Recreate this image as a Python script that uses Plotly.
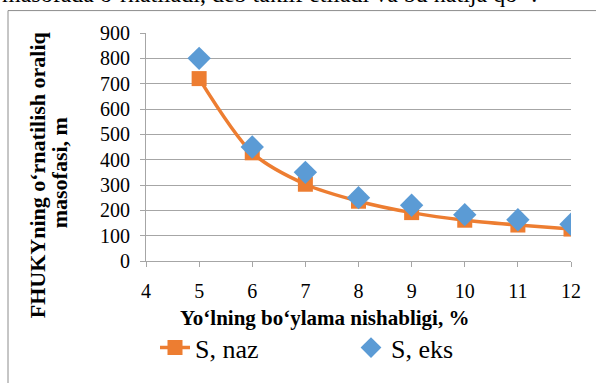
import plotly.graph_objects as go

# Road longitudinal slope, %
slope = [5, 6, 7, 8, 9, 10, 11, 12]
# Spacing, m: calculated (naz) and experimental (eks)
s_naz = [720, 427, 303, 236, 191, 161, 142, 126]
s_eks = [800, 450, 350, 250, 220, 183, 163, 145]

x_ticks = [4, 5, 6, 7, 8, 9, 10, 11, 12]
y_ticks = [0, 100, 200, 300, 400, 500, 600, 700, 800, 900]

ORANGE = "#ED7D31"
BLUE = "#5B9BD5"
GRID = "#A6A6A6"
SERIF = "Liberation Serif, Times New Roman, serif"

W, H = 596, 383
L, R, T, B = 146, 25, 33, 116
PW, PH = W - L - R, H - T - B


def px_x(px):
    return (px - L) / PW


def px_y(py):
    return (H - B - py) / PH


fig = go.Figure()
fig.add_trace(go.Scatter(
    x=slope, y=s_naz, name="S, naz", mode="lines+markers",
    line=dict(color=ORANGE, width=3.5, shape="spline", smoothing=0.8),
    marker=dict(symbol="square", size=15, color=ORANGE),
))
fig.add_trace(go.Scatter(
    x=slope, y=s_eks, name="S, eks", mode="markers",
    marker=dict(symbol="diamond", size=18, color=BLUE),
))

axis_common = dict(
    showline=True, linecolor=GRID, linewidth=1,
    ticks="outside", ticklen=5, tickcolor=GRID,
    tickfont=dict(family=SERIF, size=20, color="black"),
    zeroline=False,
)
fig.update_xaxes(range=[4, 12], tickvals=x_ticks, showgrid=False,
                 ticklabelstandoff=7, **axis_common)
fig.update_yaxes(range=[0, 900], tickvals=y_ticks, showgrid=True,
                 gridcolor=GRID, gridwidth=1, ticklabelstandoff=6,
                 **axis_common)

title_font = dict(family=SERIF, size=22, color="black")
annotations = [
    dict(text="<b>Yo‘lning bo‘ylama nishabligi, %</b>",
         x=px_x(324), y=px_y(326), xref="paper", yref="paper",
         xanchor="center", yanchor="middle",
         showarrow=False, font=dict(family=SERIF, size=21, color="black")),
    # y-axis title, two tightly spaced lines
    dict(text="<b>FHUKYning o‘rnatilish oraliq</b>",
         x=px_x(37), y=px_y(179), xref="paper", yref="paper", textangle=-90,
         xanchor="center", yanchor="middle",
         showarrow=False, font=title_font),
    dict(text="<b>masofasi, m</b>",
         x=px_x(59), y=px_y(177), xref="paper", yref="paper", textangle=-90,
         xanchor="center", yanchor="middle",
         showarrow=False, font=title_font),
    dict(text="masofada o‘rnatiladi, deb taklif etiladi va bu natija qo‘ .",
         x=px_x(0), y=px_y(8), xref="paper", yref="paper",
         xanchor="left", yanchor="bottom",
         showarrow=False, font=dict(family=SERIF, size=24, color="black")),
]

shapes = [
    dict(type="line", xref="paper", yref="paper",
         x0=px_x(8), x1=px_x(600), y0=px_y(10), y1=px_y(10),
         line=dict(color="#8C8C8C", width=1)),
    dict(type="line", xref="paper", yref="paper",
         x0=px_x(8), x1=px_x(8), y0=px_y(10), y1=px_y(400),
         line=dict(color="#8C8C8C", width=1)),
]

fig.update_layout(
    width=W, height=H,
    margin=dict(l=L, r=R, t=T, b=B),
    paper_bgcolor="white", plot_bgcolor="white",
    font=dict(family=SERIF, color="black"),
    showlegend=True,
    legend=dict(orientation="h", x=px_x(155), y=px_y(356),
                xanchor="left", yanchor="middle",
                entrywidth=151, entrywidthmode="pixels",
                font=dict(family=SERIF, size=26, color="black"),
                bgcolor="rgba(0,0,0,0)"),
    annotations=annotations,
    shapes=shapes,
)

fig.write_html("out.html")
